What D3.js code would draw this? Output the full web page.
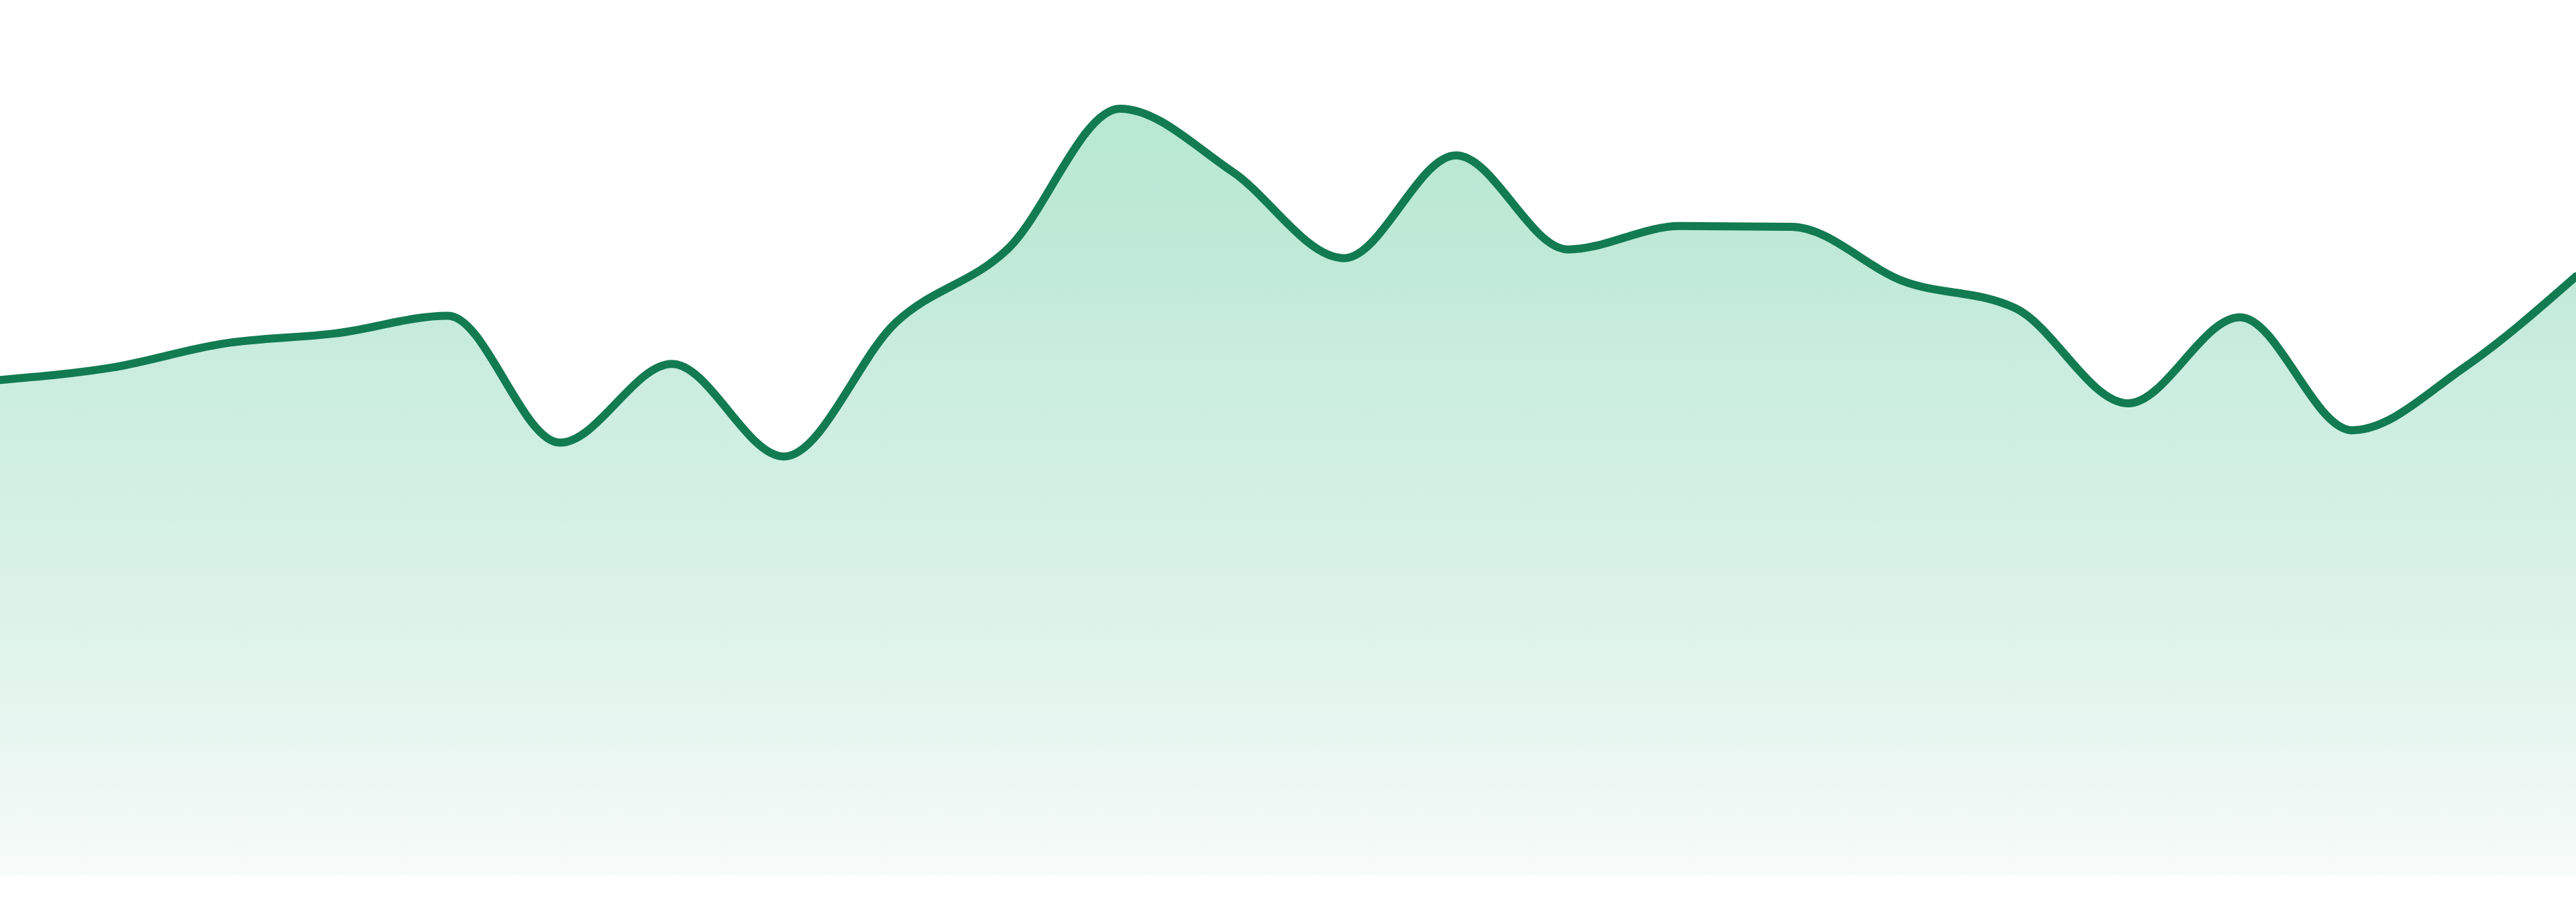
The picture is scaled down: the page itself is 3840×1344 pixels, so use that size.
<!DOCTYPE html>
<html>
<head>
<meta charset="utf-8">
<script src="https://cdn.jsdelivr.net/npm/d3@7"></script>
<style>
  html, body { margin: 0; padding: 0; background: #ffffff; }
  svg { display: block; }
</style>
</head>
<body>
<svg id="chart" width="3840" height="1344"></svg>
<script>
// ---- data ----
const categories = d3.range(24).map(i => "P" + (i + 1));
const values = [67.9, 69.6, 72.9, 74.3, 76.7, 59.3, 70.1, 57.4, 75.8, 85.9, 105.1, 96.5,
                84.6, 98.7, 85.8, 89.0, 88.9, 81.4, 77.7, 64.7, 76.5, 61.0, 69.6, 82.1];
const yDomain = [0, 120];
const gradOffsets = [0, 0.17, 0.36, 0.53, 0.73, 0.91, 1];
const gradColors = ["#b8e8d2", "#bee9d6", "#cbede0", "#d4f0e5", "#e1f4ec", "#eff8f5", "#f7fbf9"];

// ---- layout ----
const W = 3840, H = 1344;
const plotBottom = 1304;
const svg = d3.select("#chart");

const x = d3.scalePoint().domain(categories).range([0, W]);
const y = d3.scaleLinear().domain(yDomain).range([plotBottom, 0]);

const data = categories.map((c, i) => ({ c, v: values[i] }));

const defs = svg.append("defs");
const grad = defs.append("linearGradient")
  .attr("id", "areaGrad")
  .attr("gradientUnits", "userSpaceOnUse")
  .attr("x1", 0).attr("x2", 0)
  .attr("y1", y(d3.max(values))).attr("y2", plotBottom);
grad.selectAll("stop")
  .data(gradOffsets)
  .join("stop")
  .attr("offset", d => d)
  .attr("stop-color", (d, i) => gradColors[i]);

const area = d3.area()
  .x(d => x(d.c))
  .y0(plotBottom)
  .y1(d => y(d.v))
  .curve(d3.curveMonotoneX);

const line = d3.line()
  .x(d => x(d.c))
  .y(d => y(d.v))
  .curve(d3.curveMonotoneX);

svg.append("path")
  .datum(data)
  .attr("d", area)
  .attr("fill", "url(#areaGrad)");

svg.append("path")
  .datum(data)
  .attr("d", line)
  .attr("fill", "none")
  .attr("stroke", "#127b51")
  .attr("stroke-width", 12)
  .attr("stroke-linejoin", "round")
  .attr("stroke-linecap", "round");
</script>
</body>
</html>
